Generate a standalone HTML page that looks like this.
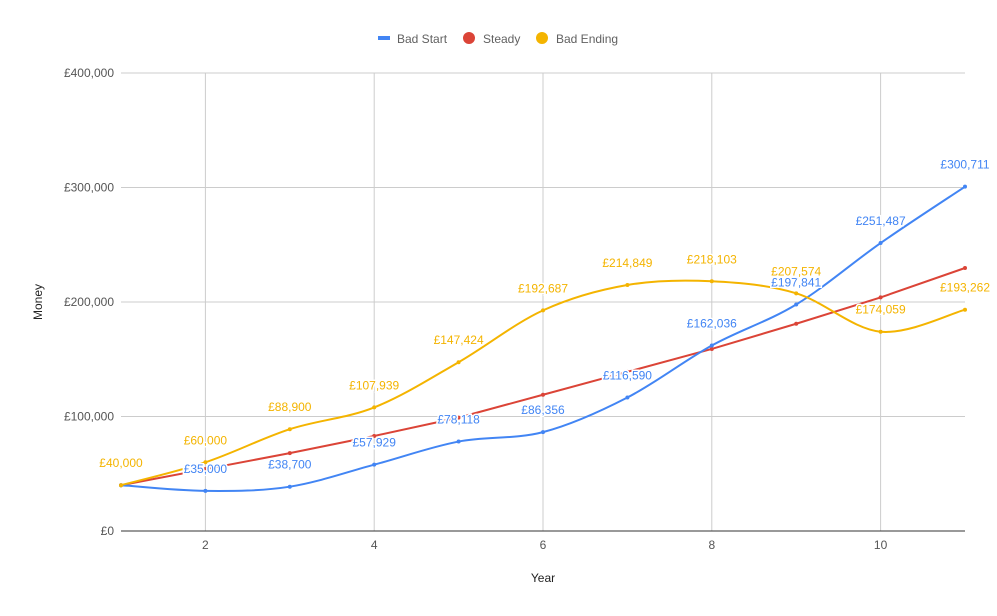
<!DOCTYPE html>
<html><head><meta charset="utf-8"><style>
body{margin:0;background:#fff;}
svg{display:block;font-family:"Liberation Sans",Roboto,sans-serif;}
</style></head><body>
<svg id="c" width="997" height="616" xmlns="http://www.w3.org/2000/svg">
<g font-size="12" fill="#616161">
<rect x="378" y="36" width="12" height="4" fill="#4285f4"/><text x="397" y="43">Bad Start</text>
<circle cx="469" cy="38" r="6" fill="#db4437"/><text x="483" y="43">Steady</text>
<circle cx="542" cy="38" r="6" fill="#f4b400"/><text x="556" y="43">Bad Ending</text>
</g>
<g id="grid" stroke="#cccccc" stroke-width="1"></g>
<g id="lines"></g>
<g id="labels" font-size="12"></g>
<text x="543" y="582" font-size="12" fill="#222" text-anchor="middle">Year</text>
<text transform="translate(42,302) rotate(-90)" font-size="12" fill="#222" text-anchor="middle">Money</text>
</svg>
<script>
const NS="http://www.w3.org/2000/svg";
const X=i=>121+(i-1)*84.4, Y=v=>531-v*458/400000;
const g=document.getElementById('grid');
function el(p,t,a,txt){const e=document.createElementNS(NS,t);for(const k in a)e.setAttribute(k,a[k]);if(txt!==undefined)e.textContent=txt;p.appendChild(e);return e;}
for(let v=100000;v<=400000;v+=100000){el(g,'line',{x1:121,x2:965,y1:Y(v),y2:Y(v)});}
for(let i=2;i<=11;i+=2){el(g,'line',{x1:X(i),x2:X(i),y1:73,y2:531});}
const svg=document.getElementById('c');
for(let v=0;v<=400000;v+=100000){el(svg,'text',{x:114,y:Y(v)+4,'font-size':12,fill:'#555','text-anchor':'end'},v==0?'£0':'£'+(v).toLocaleString('en-GB'));}
for(let i=2;i<=10;i+=2){el(svg,'text',{x:X(i),y:549,'font-size':12,fill:'#555','text-anchor':'middle'},''+i);}
el(svg,'line',{x1:121,x2:965,y1:531,y2:531,stroke:'#333','stroke-width':1});
const bs=[40000,35000,38700,57929,78118,86356,116590,162036,197841,251487,300711];
const be=[40000,60000,88900,107939,147424,192687,214849,218103,207574,174059,193262];
const st=[40000,54000,68000,83000,99000,119000,139000,159000,181000,204000,229700];
function path(d,smooth){const p=d.map((v,i)=>[X(i+1),Y(v)]);let s='M'+p[0].join(',');
for(let i=0;i<p.length-1;i++){if(!smooth){s+='L'+p[i+1].join(',');continue;}
const p0=p[Math.max(0,i-1)],p1=p[i],p2=p[i+1],p3=p[Math.min(p.length-1,i+2)],t=6;
s+='C'+(p1[0]+(p2[0]-p0[0])/t)+','+(p1[1]+(p2[1]-p0[1])/t)+' '+(p2[0]-(p3[0]-p1[0])/t)+','+(p2[1]-(p3[1]-p1[1])/t)+' '+p2[0]+','+p2[1];}return s;}
const L=document.getElementById('lines'),T=document.getElementById('labels');
[[st,'#db4437',false],[bs,'#4285f4',true],[be,'#f4b400',true]].forEach(([d,c,sm])=>{
el(L,'path',{d:path(d,sm),fill:'none',stroke:c,'stroke-width':2});
d.forEach((v,i)=>el(L,'circle',{cx:X(i+1),cy:Y(v),r:2,fill:c}));});
[[bs,'#4285f4'],[be,'#f4b400']].forEach(([d,c])=>d.forEach((v,i)=>{if(c=='#4285f4'&&i==0)return;
el(T,'text',{x:X(i+1),y:Y(v)-18,fill:c,'text-anchor':'middle',stroke:'#fff','stroke-width':3,'paint-order':'stroke'},'£'+v.toLocaleString('en-GB'));}));
</script>
</body></html>
